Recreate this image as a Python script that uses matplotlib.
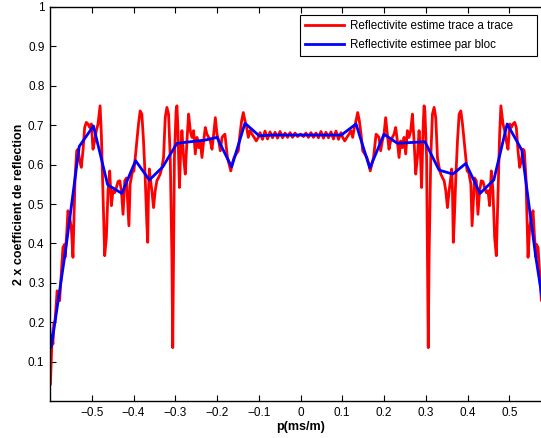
import matplotlib
matplotlib.use('Agg')
import matplotlib.pyplot as plt

plt.rcParams['font.family'] = ['Liberation Sans', 'DejaVu Sans']

# courbe rouge : reflectivite trace a trace (p < 0 puis p > 0)
red_x_left = [
    -0.599, -0.597, -0.595, -0.593, -0.591, -0.588, -0.585, -0.583, -0.580, -0.577,
    -0.575, -0.572, -0.569, -0.565, -0.564, -0.560, -0.557, -0.553, -0.549, -0.545,
    -0.543, -0.540, -0.536, -0.533, -0.529, -0.525, -0.521, -0.517, -0.513, -0.509,
    -0.505, -0.501, -0.497, -0.493, -0.489, -0.485, -0.480, -0.477, -0.473, -0.469,
    -0.465, -0.461, -0.457, -0.453, -0.449, -0.445, -0.441, -0.437, -0.433, -0.429,
    -0.425, -0.421, -0.417, -0.411, -0.408, -0.403, -0.399, -0.396, -0.392, -0.388,
    -0.384, -0.380, -0.376, -0.372, -0.368, -0.366, -0.364, -0.362, -0.360, -0.356,
    -0.352, -0.348, -0.344, -0.340, -0.336, -0.332, -0.328, -0.324, -0.320, -0.316,
    -0.312, -0.308, -0.306, -0.304, -0.302, -0.298, -0.296, -0.294, -0.290, -0.287,
    -0.284, -0.280, -0.276, -0.272, -0.268, -0.264, -0.260, -0.256, -0.252, -0.248,
    -0.244, -0.240, -0.236, -0.232, -0.228, -0.224, -0.220, -0.216, -0.212, -0.208,
    -0.204, -0.200, -0.196, -0.192, -0.188, -0.185, -0.181, -0.178, -0.175, -0.170,
    -0.167, -0.164, -0.159, -0.154, -0.149, -0.145, -0.141, -0.137, -0.133, -0.129,
    -0.125, -0.121, -0.116, -0.111, -0.106, -0.101, -0.097, -0.091, -0.085, -0.079,
    -0.073, -0.067, -0.061, -0.055, -0.049, -0.043, -0.037, -0.031, -0.025, -0.019,
    -0.013, -0.007, -0.001]
red_y_left = [
    0.044, 0.103, 0.162, 0.145, 0.196, 0.204, 0.246, 0.280, 0.272, 0.255,
    0.289, 0.339, 0.390, 0.398, 0.365, 0.424, 0.483, 0.466, 0.441, 0.365,
    0.449, 0.567, 0.635, 0.639, 0.610, 0.593, 0.635, 0.694, 0.707, 0.703,
    0.694, 0.703, 0.639, 0.660, 0.686, 0.703, 0.749, 0.677, 0.525, 0.369,
    0.415, 0.534, 0.584, 0.496, 0.534, 0.529, 0.542, 0.557, 0.559, 0.534,
    0.474, 0.559, 0.566, 0.445, 0.551, 0.580, 0.584, 0.615, 0.660, 0.703,
    0.736, 0.728, 0.660, 0.567, 0.449, 0.403, 0.534, 0.589, 0.567, 0.534,
    0.491, 0.534, 0.559, 0.567, 0.576, 0.593, 0.618, 0.719, 0.745, 0.728,
    0.618, 0.365, 0.136, 0.365, 0.618, 0.736, 0.749, 0.703, 0.542, 0.635,
    0.686, 0.618, 0.576, 0.660, 0.728, 0.686, 0.669, 0.686, 0.627, 0.669,
    0.643, 0.660, 0.618, 0.660, 0.694, 0.677, 0.669, 0.660, 0.639, 0.677,
    0.719, 0.677, 0.660, 0.635, 0.669, 0.673, 0.677, 0.648, 0.618, 0.597,
    0.584, 0.601, 0.618, 0.627, 0.635, 0.677, 0.711, 0.732, 0.711, 0.694,
    0.669, 0.686, 0.677, 0.669, 0.660, 0.669, 0.681, 0.664, 0.685, 0.665,
    0.683, 0.668, 0.682, 0.667, 0.684, 0.668, 0.680, 0.669, 0.681, 0.669,
    0.680, 0.671, 0.677]
red_x_right = [
    0.001, 0.007, 0.013, 0.019, 0.025, 0.031, 0.037, 0.043, 0.049, 0.055,
    0.061, 0.067, 0.073, 0.079, 0.085, 0.091, 0.097, 0.101, 0.106, 0.111,
    0.116, 0.121, 0.125, 0.129, 0.133, 0.137, 0.141, 0.145, 0.149, 0.154,
    0.159, 0.164, 0.167, 0.170, 0.175, 0.178, 0.181, 0.185, 0.188, 0.192,
    0.196, 0.200, 0.204, 0.208, 0.212, 0.216, 0.220, 0.224, 0.228, 0.232,
    0.236, 0.240, 0.244, 0.248, 0.252, 0.256, 0.260, 0.264, 0.268, 0.272,
    0.276, 0.280, 0.284, 0.287, 0.290, 0.294, 0.296, 0.298, 0.302, 0.304,
    0.306, 0.308, 0.312, 0.316, 0.320, 0.324, 0.328, 0.332, 0.336, 0.340,
    0.344, 0.348, 0.352, 0.356, 0.360, 0.362, 0.364, 0.366, 0.368, 0.372,
    0.376, 0.380, 0.384, 0.388, 0.392, 0.396, 0.399, 0.403, 0.408, 0.411,
    0.417, 0.421, 0.425, 0.429, 0.433, 0.437, 0.441, 0.445, 0.449, 0.453,
    0.457, 0.461, 0.465, 0.469, 0.473, 0.477, 0.480, 0.485, 0.489, 0.493,
    0.497, 0.501, 0.505, 0.509, 0.513, 0.517, 0.521, 0.525, 0.529, 0.533,
    0.536, 0.540, 0.543, 0.545, 0.549, 0.553, 0.557, 0.560, 0.564, 0.565,
    0.569, 0.572, 0.575, 0.577, 0.580, 0.583, 0.585, 0.588, 0.591, 0.593,
    0.595, 0.597, 0.599]
red_y_right = [
    0.677, 0.671, 0.680, 0.669, 0.681, 0.669, 0.680, 0.668, 0.684, 0.667,
    0.682, 0.668, 0.683, 0.665, 0.685, 0.664, 0.681, 0.669, 0.660, 0.669,
    0.677, 0.686, 0.669, 0.694, 0.711, 0.732, 0.711, 0.677, 0.635, 0.627,
    0.618, 0.601, 0.584, 0.597, 0.618, 0.648, 0.677, 0.673, 0.669, 0.635,
    0.660, 0.677, 0.719, 0.677, 0.639, 0.660, 0.669, 0.677, 0.694, 0.660,
    0.618, 0.660, 0.643, 0.669, 0.627, 0.686, 0.669, 0.686, 0.728, 0.660,
    0.576, 0.618, 0.686, 0.635, 0.542, 0.703, 0.749, 0.736, 0.618, 0.365,
    0.136, 0.365, 0.618, 0.728, 0.745, 0.719, 0.618, 0.593, 0.576, 0.567,
    0.559, 0.534, 0.491, 0.534, 0.567, 0.589, 0.534, 0.403, 0.449, 0.567,
    0.660, 0.728, 0.736, 0.703, 0.660, 0.615, 0.584, 0.580, 0.551, 0.445,
    0.566, 0.559, 0.474, 0.534, 0.559, 0.557, 0.542, 0.529, 0.534, 0.496,
    0.584, 0.534, 0.415, 0.369, 0.525, 0.677, 0.749, 0.703, 0.686, 0.660,
    0.639, 0.703, 0.694, 0.703, 0.707, 0.694, 0.635, 0.593, 0.610, 0.639,
    0.635, 0.567, 0.449, 0.365, 0.441, 0.466, 0.483, 0.424, 0.365, 0.398,
    0.390, 0.339, 0.289, 0.255, 0.272, 0.280, 0.246, 0.204, 0.196, 0.145,
    0.162, 0.103, 0.044]

# courbe bleue : reflectivite estimee par bloc
blue_x = [-0.602, -0.597, -0.563, -0.530, -0.496, -0.462, -0.428, -0.395, -0.362, -0.330,
          -0.296, -0.263, -0.229, -0.200, -0.165, -0.133, -0.099, -0.066, -0.033, 0.0,
          0.033, 0.066, 0.098, 0.133, 0.166, 0.200, 0.232, 0.265, 0.298, 0.332,
          0.365, 0.396, 0.430, 0.463, 0.495, 0.530, 0.563, 0.597, 0.602]
blue_y = [0.205, 0.137, 0.380, 0.646, 0.698, 0.549, 0.527, 0.610, 0.561, 0.594,
          0.654, 0.658, 0.662, 0.669, 0.594, 0.705, 0.673, 0.675, 0.675, 0.675,
          0.675, 0.675, 0.675, 0.703, 0.591, 0.677, 0.654, 0.656, 0.658, 0.586,
          0.576, 0.603, 0.527, 0.561, 0.703, 0.637, 0.370, 0.137, 0.205]

x_ticks = [-0.5, -0.4, -0.3, -0.2, -0.1, 0, 0.1, 0.2, 0.3, 0.4, 0.5]
x_tick_labels = ['\u22120.5', '\u22120.4', '\u22120.3', '\u22120.2', '\u22120.1', '0',
                 '0.1', '0.2', '0.3', '0.4', '0.5']
y_ticks = [0.1, 0.2, 0.3, 0.4, 0.5, 0.6, 0.7, 0.8, 0.9, 1.0]
y_tick_labels = ['0.1', '0.2', '0.3', '0.4', '0.5', '0.6', '0.7', '0.8', '0.9', '1']


def main():
    fig = plt.figure(figsize=(5.41, 4.38), dpi=100)
    # l'axe depasse a droite : l'image d'origine est coupee
    ax = fig.add_axes([50 / 541, 36.7 / 438, 501 / 541, 394.5 / 438])

    ax.plot(red_x_left + red_x_right, red_y_left + red_y_right, color='#ff0000', lw=2,
            label='Reflectivite estime trace a trace')
    ax.plot(blue_x, blue_y, color='#0000ff', lw=2, label='Reflectivite estimee par bloc')

    ax.set_xlim(-0.6, 0.6)
    ax.set_ylim(0, 1)
    ax.set_xticks(x_ticks)
    ax.set_xticklabels(x_tick_labels)
    ax.set_yticks(y_ticks)
    ax.set_yticklabels(y_tick_labels)
    ax.tick_params(direction='in', length=4, width=0.8, labelsize=8.5, top=True,
                   right=True, colors='black', pad=4)
    for s in ax.spines.values():
        s.set_linewidth(1.0)

    ax.set_xlabel('p(ms/m)', fontsize=9, fontweight='bold')
    ax.set_ylabel('2 x coefficient de reflection', fontsize=9, fontweight='bold')
    ax.xaxis.set_label_coords(0.5, -0.05)
    ax.yaxis.set_label_coords(-0.05, 0.5)

    # cadre de legende plus large, comme dans l'original
    leg = ax.legend(loc='upper left', bbox_to_anchor=(300 / 541, 1 - 55 / 438, 237 / 541, 40 / 438),
                    bbox_transform=fig.transFigure, mode='expand', borderaxespad=0,
                    fontsize=8.4, fancybox=False, framealpha=1, edgecolor='black',
                    handlelength=3.3, handletextpad=0.55, labelspacing=0.55,
                    borderpad=0.45)
    leg.get_frame().set_linewidth(0.8)

    fig.savefig('out.png', dpi=100)


if __name__ == '__main__':
    main()
